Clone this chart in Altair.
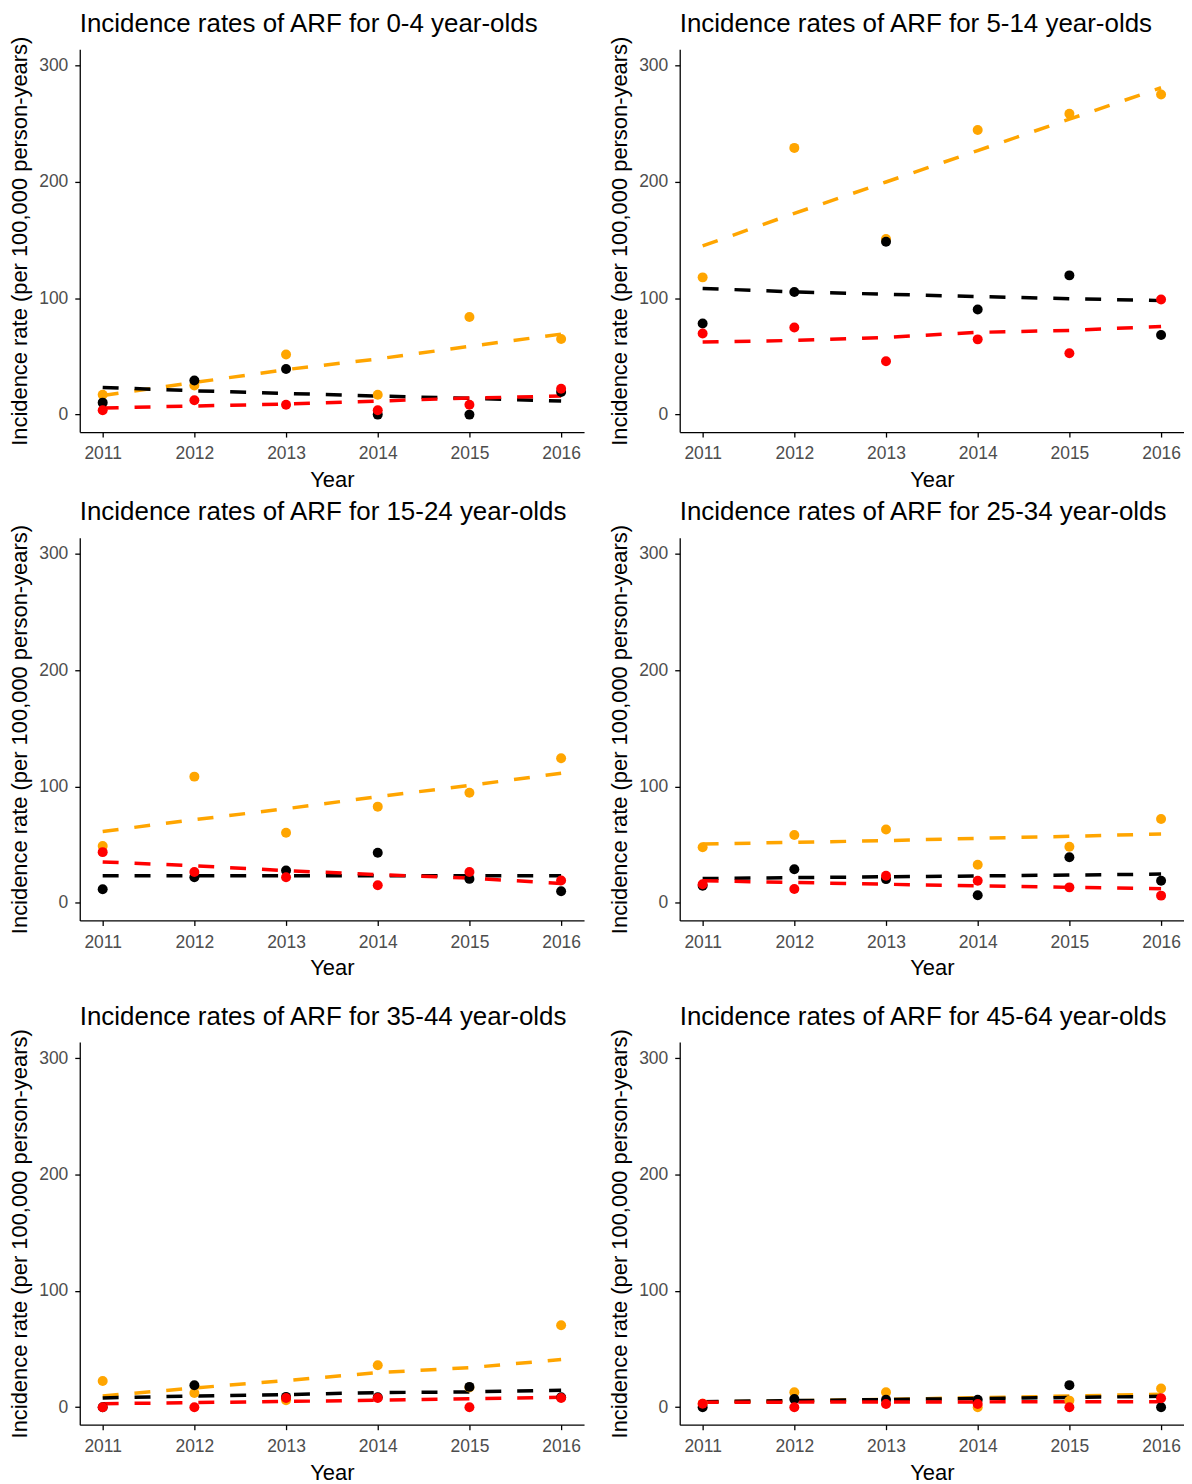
import altair as alt
import pandas as pd

years = [2011, 2012, 2013, 2014, 2015, 2016]
age_groups = ["0-4", "5-14", "15-24", "25-34", "35-44", "45-64"]
series_names = ["orange", "black", "red"]
series_colors = ["#FFA500", "#000000", "#FF0000"]

# Observed incidence rates (points)
obs_0_4 = {"orange": [17, 25, 51.6, 17, 84, 65],
           "black": [10.3, 29.3, 39.3, 0, 0, 19.4],
           "red": [3.7, 12.3, 8.5, 3.7, 8.5, 22.2]}
obs_5_14 = {"orange": [118, 229.3, 151, 244.7, 258.7, 275.2],
            "black": [78.3, 105.4, 148.7, 90.3, 119.7, 68.4],
            "red": [69.8, 74.9, 45.9, 64.7, 52.7, 98.9]}
obs_15_24 = {"orange": [48.9, 108.6, 60.3, 82.8, 94.8, 124.4],
             "black": [11.8, 22.1, 27.9, 43.1, 20.7, 10.1],
             "red": [43.7, 26.7, 22.1, 15.2, 26.7, 19.3]}
obs_25_34 = {"orange": [47.9, 58.4, 63.2, 32.8, 48.4, 72.1],
             "black": [14.8, 29, 20.5, 6.6, 39.3, 19.1],
             "red": [16, 12, 23.4, 19.1, 13.4, 6.3]}
obs_35_44 = {"orange": [22.6, 12.3, 6, 36.1, 17, 70.5],
             "black": [0, 18.9, 8.9, 8.6, 17.5, 8.6],
             "red": [0, 0, 8, 8, 0, 8]}
obs_45_64 = {"orange": [3, 12.8, 12.8, 0, 5.7, 16.2],
             "black": [0, 7, 6.5, 6.5, 19, 0],
             "red": [3, 0, 2.8, 2.8, 0, 7.7]}

# Fitted trend values (dashed lines)
fit_0_4 = {"orange": [16.5, 27.6, 38.7, 47.9, 58.7, 69.2],
           "black": [23.4, 20.5, 18.2, 16, 14, 11.7],
           "red": [5.7, 7.4, 9.1, 11.7, 14.2, 16]}
fit_5_14 = {"orange": [145, 173, 200, 227, 254, 281],
            "black": [108.5, 105.5, 103.5, 101.5, 99.7, 98],
            "red": [62.4, 63.8, 66.4, 70.7, 72.4, 75.8]}
fit_15_24 = {"orange": [61.5, 71.6, 81, 91.4, 101, 111.5],
             "black": [23.3, 23.3, 23.3, 23.3, 23.3, 23.3],
             "red": [35.3, 32, 27.8, 24.4, 21.4, 16.8]}
fit_25_34 = {"orange": [50.7, 52.1, 53.6, 55.6, 57.3, 59.3],
             "black": [21, 21.8, 22.5, 23.2, 24, 24.8],
             "red": [19.1, 17.6, 16.1, 14.7, 13.4, 12.3]}
fit_35_44 = {"orange": [9.7, 16.6, 22.9, 29.8, 34, 41],
             "black": [8, 9.7, 10.9, 12.6, 13.2, 14.6],
             "red": [3, 4, 5, 6, 7.3, 8.6]}
fit_45_64 = {"orange": [4.5, 5.5, 6.8, 8.2, 9.6, 11.2],
             "black": [4.8, 5.7, 6.6, 7.5, 8.4, 9.4],
             "red": [4.3, 4.4, 4.5, 4.6, 4.7, 4.8]}

obs_all = [obs_0_4, obs_5_14, obs_15_24, obs_25_34, obs_35_44, obs_45_64]
fit_all = [fit_0_4, fit_5_14, fit_15_24, fit_25_34, fit_35_44, fit_45_64]


def long_frame(src):
    rows = []
    for g, d in zip(age_groups, src):
        for s in series_names:
            for i, yv in enumerate(years):
                rows.append({"group": g, "series": s, "year": yv, "rate": d[s][i]})
    return pd.DataFrame(rows)


obs_df = long_frame(obs_all)
fit_df = long_frame(fit_all)

PW, PH = 506, 384

x_enc = alt.X("year:Q",
              scale=alt.Scale(domain=[2010.75, 2016.25], nice=False, zero=False),
              axis=alt.Axis(values=years, format="d", title="Year"))
y_enc = alt.Y("rate:Q",
              scale=alt.Scale(domain=[-15, 314], nice=False, zero=False),
              axis=alt.Axis(values=[0, 100, 200, 300],
                            title="Incidence rate (per 100,000 person-years)"))
c_enc = alt.Color("series:N",
                  scale=alt.Scale(domain=series_names, range=series_colors),
                  legend=None)


def panel(g):
    lines = alt.Chart(fit_df).transform_filter(alt.datum.group == g).mark_line(
        strokeDash=[16, 16], strokeWidth=3.5
    ).encode(x=x_enc, y=y_enc, color=c_enc, detail="series:N")
    pts = alt.Chart(obs_df).transform_filter(alt.datum.group == g).mark_circle(
        size=100, opacity=1
    ).encode(x=x_enc, y=y_enc, color=c_enc)
    return alt.layer(lines, pts).properties(
        width=PW, height=PH,
        title=alt.TitleParams(f"Incidence rates of ARF for {g} year-olds",
                              anchor="start", frame="group")
    )


row1 = alt.hconcat(panel("0-4"), panel("5-14"), spacing=24)
row2 = alt.hconcat(panel("15-24"), panel("25-34"), spacing=24)
row3 = alt.hconcat(panel("35-44"), panel("45-64"), spacing=24)

chart = alt.vconcat(alt.vconcat(row1, row2, spacing=8), row3, spacing=24).properties(
    padding={"left": 0, "top": 0, "right": 0, "bottom": 0}
).configure(font="Liberation Sans").configure_view(stroke=None).configure_axis(
    grid=False,
    domainColor="#000000", domainWidth=1.3,
    tickColor="#000000", tickWidth=1.3, tickSize=5,
    labelColor="#4D4D4D", labelFontSize=17.5, labelPadding=7,
    labelFont="Liberation Sans",
    titleColor="#000000", titleFontSize=22, titleFontWeight="normal",
    titleFont="Liberation Sans", titlePadding=9,
).configure_axisX(labelPadding=8, titlePadding=7).configure_axisY(titlePadding=7).configure_title(
    fontSize=26, fontWeight="normal", color="#000000", offset=-1,
    font="Liberation Sans", baseline="alphabetic", lineHeight=14
)

chart.save("out.html", embed_options={"renderer": "svg", "actions": False})
